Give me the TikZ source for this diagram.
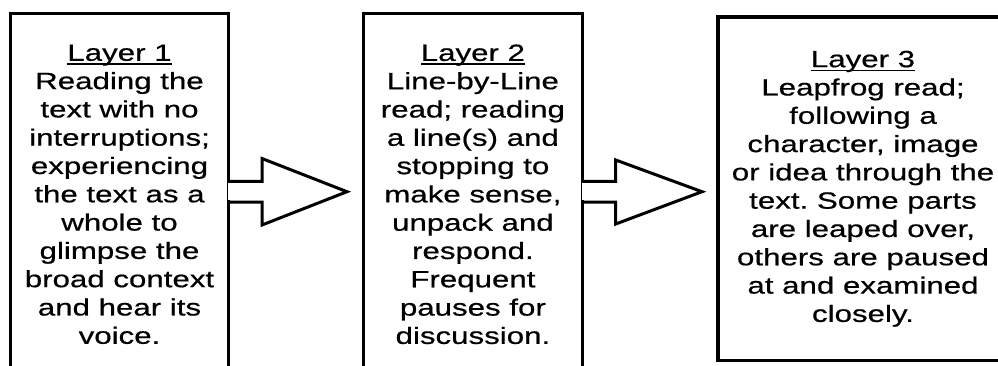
\documentclass[tikz,border=0pt]{standalone}
\usepackage{fontspec}
\setmainfont{Liberation Sans}[FakeStretch=1.33,FakeBold=0.6]
\frenchspacing
\newcommand\ulayer[1]{\setbox0\hbox{#1}\rlap{\rule[-4.2pt]{\wd0}{1.8pt}}\box0}
\begin{document}
\begin{tikzpicture}[x=1pt,y=-1pt,
  layerbox/.style={draw=black, line width=3.4pt, inner sep=0pt, align=center,
    font=\fontsize{23.5}{28.3}\selectfont},
  bigarrow/.style={draw=black, line width=3pt, line join=miter},
  gapcover/.style={fill=white, draw=none}]
\useasboundingbox (0,0) rectangle (998,365);

\node[layerbox, minimum width=218pt, minimum height=361.6pt] (b1) at (119.5,194.3)
  {\ulayer{Layer 1}\\Reading the\\text with no\\interruptions;\\experiencing\\the text as a\\whole to\\glimpse the\\broad context\\and hear its\\voice.};
\node[layerbox, minimum width=218.8pt, minimum height=361.6pt] (b2) at (472.9,194.3)
  {\ulayer{Layer 2}\\Line-by-Line\\read; reading\\a line(s) and\\stopping to\\make sense,\\unpack and\\respond.\\Frequent\\pauses for\\discussion.};
\node[layerbox, minimum width=290pt, minimum height=343.5pt] (b3) at (863,188.75)
  {\ulayer{Layer 3}\\Leapfrog read;\\following a\\character, image\\or idea through the\\text. Some parts\\are leaped over,\\others are paused\\at and examined\\closely.};

\coordinate (t1) at (347,191.7);
\coordinate (t2) at (702,191.7);
\coordinate (s1a) at (b1.east |- 0,181.4);
\coordinate (s1b) at (b1.east |- 0,202);
\coordinate (s2a) at (b2.east |- 0,181.4);
\coordinate (s2b) at (b2.east |- 0,202);

\path[gapcover] (s1a) ++(-2.5,1.6) rectangle ++(5,17.4);
\draw[bigarrow] (s1a) -- (262,181.4) -- (262,158.5) -- (t1)
  -- (262,225) -- (262,202) -- (s1b);

\path[gapcover] (s2a) ++(-2.5,1.6) rectangle ++(5,17.4);
\draw[bigarrow] (s2a) -- (615.7,181.4) -- (615.7,160) -- (t2)
  -- (615.7,224) -- (615.7,202) -- (s2b);
\end{tikzpicture}
\end{document}
